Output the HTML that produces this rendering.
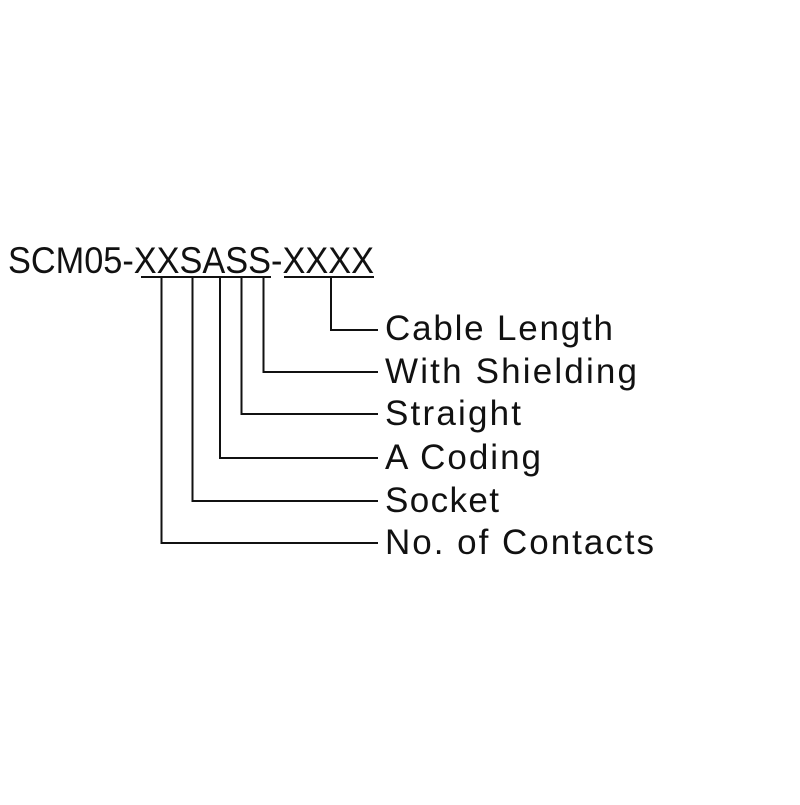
<!DOCTYPE html>
<html><head><style>html,body{margin:0;padding:0;background:#fff}</style></head>
<body>
<svg width="800" height="800" viewBox="0 0 800 800" xmlns="http://www.w3.org/2000/svg">
<rect width="800" height="800" fill="#fff"/>
<g font-family="Liberation Sans, DejaVu Sans, sans-serif" fill="#111">
<text x="8" y="273" font-size="37" textLength="366" lengthAdjust="spacingAndGlyphs">SCM05-XXSASS-XXXX</text>
<g font-size="35" lengthAdjust="spacingAndGlyphs">
<text x="385" y="340" textLength="228">Cable Length</text>
<text x="385" y="383" textLength="252">With Shielding</text>
<text x="385" y="425" textLength="136">Straight</text>
<text x="385" y="469" textLength="156">A Coding</text>
<text x="385" y="512" textLength="114">Socket</text>
<text x="385" y="554" textLength="269">No. of Contacts</text>
</g>
</g>
<g stroke="#111" stroke-width="2" fill="none">
<line x1="141" y1="277" x2="271" y2="277"/>
<line x1="284" y1="277" x2="374" y2="277"/>
<polyline points="331,277 331,330 378,330"/>
<polyline points="263.5,277 263.5,372 378,372"/>
<polyline points="241.5,277 241.5,414 378,414"/>
<polyline points="220,277 220,458 378,458"/>
<polyline points="192.5,277 192.5,501 378,501"/>
<polyline points="161.5,277 161.5,543 378,543"/>
</g>
</svg>
</body></html>
